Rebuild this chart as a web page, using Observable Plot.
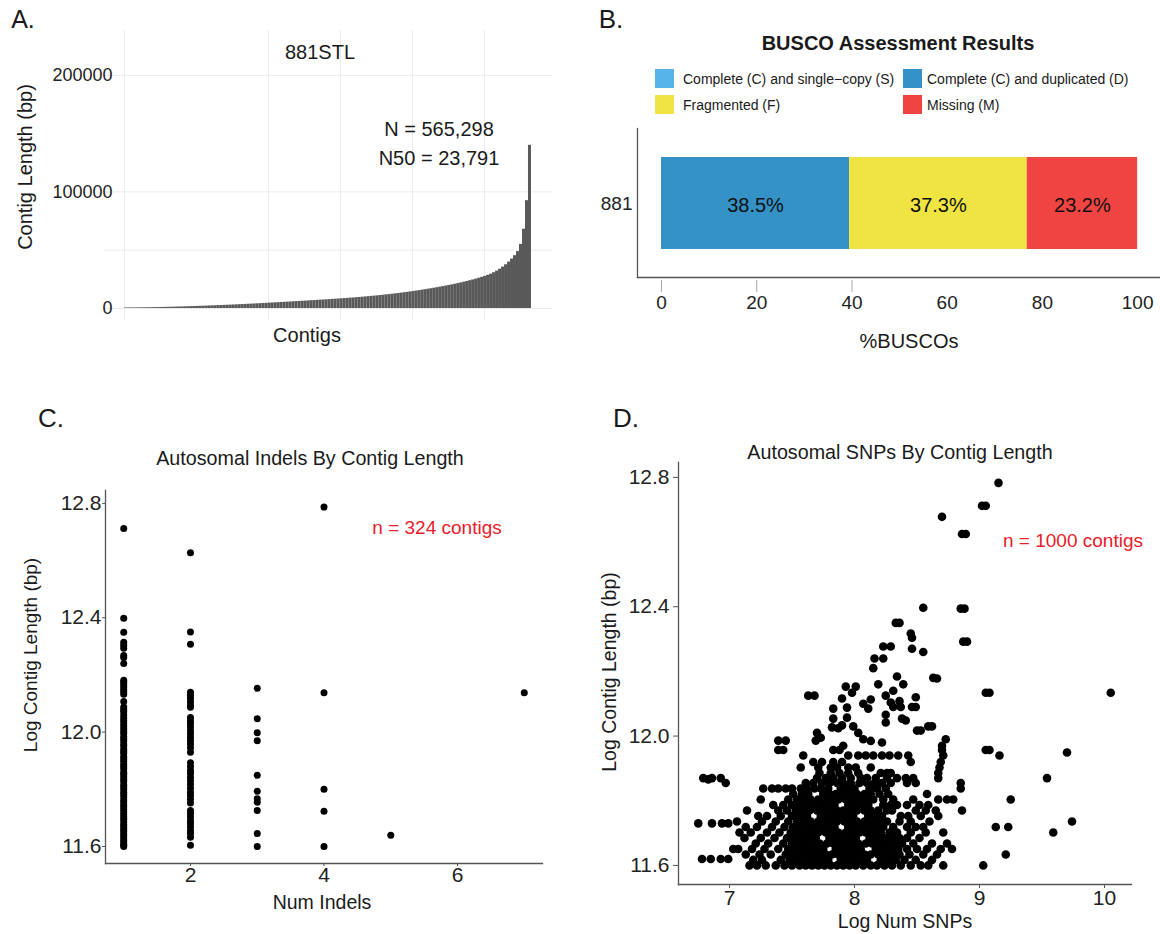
<!DOCTYPE html>
<html><head><meta charset="utf-8">
<script src="https://cdn.jsdelivr.net/npm/d3@7"></script>
<script src="https://cdn.jsdelivr.net/npm/@observablehq/plot@0.6"></script>
<style>
body{margin:0;background:#fff;font-family:"Liberation Sans",Arial,Helvetica,sans-serif;color:#1a1a1a}
#fig{position:relative;width:1160px;height:934px;overflow:hidden;background:#fff}
.t{position:absolute;white-space:nowrap;line-height:1;transform:translate(-50%,-50%)}
.p{position:absolute}
.sw{position:absolute;width:19px;height:19px}
</style></head><body><div id="fig"></div><script>
// ---------- Panel A data ----------
const contigLengths = [
 450,480,500,520,550,580,610,650,690,
 730,780,830,880,940,1000,1070,1140,
 1210,1290,1370,1450,1530,1610,1700,1790,1880,
 1970,2060,2160,2260,2360,2460,2570,2680,
 2790,2900,3020,3140,3260,3380,3500,3630,
 3760,3890,4020,4150,4290,4430,4570,4710,
 4850,5000,5150,5300,5450,5600,5750,5900,6050,
 6200,6350,6500,6660,6820,6980,7140,7300,
 7460,7620,7790,7960,8130,8300,8480,8660,
 8850,9050,9250,9460,9680,9900,10130,10370,10610,
 10860,11120,11390,11670,11950,12240,12540,12850,
 13170,13500,13840,14190,14550,14920,15300,15700,
 16110,16530,16960,17400,17850,18310,18780,19260,
 19760,20280,20820,21380,21960,22560,23180,
 23830,24500,25200,25940,26720,
 27550,28450,29420,30700,
 32100,33700,35500,37500,
 39800,42400,45300,48800,
 55000,68000,92500,140000];
const totalContigs = 565298;
const lengthTicks = [0, 100000, 200000];
const lengthGrid = [0, 50000, 100000, 200000];
const contigGrid = [0, 200000, 300000, 400000, 500000];

// ---------- Panel B data ----------
const buscoSample = "881";
const buscoCategories = ["Complete (C) and single\u2212copy (S)", "Complete (C) and duplicated (D)", "Fragmented (F)", "Missing (M)"];
const buscoColors = ["#56B4E9", "#3492C7", "#F0E442", "#F04442"];
const buscoValues = [0, 39.5, 37.3, 23.2];
const buscoLabels = ["", "38.5%", "37.3%", "23.2%"];
const percentTicks = [0, 20, 40, 60, 80, 100];
const percentTickMarks = [0, 20, 40];

// ---------- Panel C data ----------
const indelsAt1 = [12.712,12.398,12.349,12.314,12.304,12.293,12.268,12.261,12.240,12.181,12.174,12.166,12.158,12.149,12.141,12.132,12.107,12.088,12.079,12.071,12.060,12.049,12.041,12.032,12.022,12.013,12.004,11.996,11.985,11.977,11.969,11.958,11.951,11.940,11.932,11.925,11.914,11.906,11.898,11.887,11.879,11.871,11.860,11.853,11.844,11.834,11.827,11.816,11.809,11.800,11.790,11.782,11.773,11.763,11.756,11.746,11.739,11.729,11.721,11.712,11.703,11.695,11.686,11.677,11.669,11.660,11.652,11.643,11.635,11.626,11.618,11.610,11.604,11.600];
const indelsAt2 = [12.627,12.350,12.307,12.139,12.128,12.118,12.106,12.094,12.087,12.051,12.040,12.030,12.018,12.005,11.994,11.982,11.970,11.958,11.945,11.930,11.893,11.880,11.866,11.855,11.842,11.830,11.817,11.804,11.790,11.778,11.765,11.752,11.726,11.715,11.703,11.690,11.680,11.668,11.655,11.645,11.632,11.604];
const indelsAt3 = [12.153,12.047,11.998,11.970,11.849,11.793,11.767,11.755,11.726,11.645,11.600];
const indelsAt4 = [12.787,12.138,11.800,11.723,11.600];
const indelsAt5 = [11.639];
const indelsAt7 = [12.138];
const logLenTicks = [11.6, 12.0, 12.4, 12.8];
const indelTicks = [2, 4, 6];

// ---------- Panel D data ----------
const snpRowLevels = [11.600,11.617,11.634,11.651,11.668,11.685,11.702,11.719,11.736,11.753,11.770,11.787,11.804,11.821,11.838,11.855,11.870,11.886,11.903,11.920,11.940,11.957];
const snpRowLogNum = [
 [7.16,7.22,7.29,7.37,7.44,7.50,7.56,7.61,7.66,7.71,7.76,7.81,7.86,7.91,7.96,8.01,8.07,8.13,8.18,8.24,8.30,8.37,8.45,8.53,8.59,8.71,9.03],
 [7.19,7.26,7.41,7.48,7.53,7.58,7.64,7.69,7.74,7.79,7.89,7.94,7.99,8.04,8.10,8.21,8.27,8.33,8.40,8.49,8.62],
 [7.13,7.24,7.33,7.45,7.51,7.56,7.62,7.67,7.72,7.77,7.82,7.87,7.92,7.97,8.02,8.08,8.13,8.19,8.25,8.31,8.36,8.44,8.55,8.66,9.21],
 [7.03,7.07,7.18,7.28,7.39,7.47,7.53,7.59,7.64,7.70,7.75,7.85,7.90,7.95,8.00,8.05,8.17,8.23,8.29,8.35,8.42,8.50,8.58,8.69,8.78],
 [7.21,7.31,7.43,7.50,7.56,7.61,7.67,7.72,7.78,7.83,7.88,7.93,7.98,8.03,8.09,8.14,8.20,8.26,8.32,8.38,8.47,8.62,8.74],
 [7.12,7.25,7.36,7.46,7.52,7.58,7.63,7.69,7.80,7.85,7.90,7.96,8.01,8.12,8.18,8.24,8.30,8.36,8.42,8.52],
 [7.08,7.17,7.30,7.40,7.49,7.55,7.60,7.66,7.71,7.77,7.82,7.87,7.93,7.98,8.04,8.09,8.15,8.21,8.28,8.34,8.45,8.57,8.71,9.59],
 [7.13,7.22,7.34,7.44,7.51,7.57,7.63,7.68,7.73,7.79,7.84,7.95,8.00,8.06,8.11,8.17,8.23,8.31,8.42,8.49,8.55,9.13,9.23],
 [7.06,7.26,7.37,7.47,7.54,7.60,7.65,7.71,7.76,7.81,7.86,7.92,7.97,8.02,8.08,8.14,8.20,8.26,8.36,8.45,8.60,9.74],
 [7.23,7.30,7.41,7.50,7.56,7.62,7.73,7.78,7.84,7.89,7.94,7.99,8.11,8.16,8.22,8.37,8.43,8.53,8.67],
 [7.14,7.39,7.46,7.53,7.59,7.64,7.70,7.75,7.81,7.86,7.91,7.97,8.02,8.08,8.13,8.19,8.26,8.30,8.49,8.57,8.65,8.86],
 [7.35,7.43,7.50,7.56,7.62,7.67,7.73,7.78,7.84,7.95,8.00,8.06,8.11,8.23,8.29,8.34,8.42,8.52,8.59],
 [7.25,7.47,7.54,7.60,7.65,7.71,7.76,7.82,7.87,7.93,7.98,8.04,8.09,8.15,8.23,8.31,8.47,8.67,8.74,8.79,9.25],
 [7.51,7.58,7.63,7.75,7.80,7.85,7.91,7.96,8.02,8.08,8.13,8.20,8.27,8.58],
 [7.27,7.34,7.39,7.45,7.50,7.57,7.62,7.68,7.73,7.79,7.89,7.94,8.00,8.12,8.18,8.25,8.85],
 [6.97,7.61,7.67,7.74,7.80,7.86,7.91,7.97,8.04,8.10,8.16,8.22,8.29,8.42,8.49,8.85],
 [6.79,6.86,6.93,7.70,7.77,7.83,7.90,7.97,8.05,8.10,8.17,8.26,8.34,8.41,8.47,8.67,9.54],
 [7.72,7.81,7.88,7.95,8.03,8.21,8.26,8.29,8.67],
 [7.57,7.71,7.81,7.86,7.95,8.01,8.13,8.68],
 [7.67,7.74,7.83,7.90,8.45,8.69],
 [7.59,7.95,8.03,8.09,8.15,8.22,8.28,8.35,8.43,8.71,9.16],
 [7.39,7.43,7.83,7.88,8.70,9.05,9.08]];
const snpScattered = [
 [6.83,11.866],[6.75,11.73],[6.86,11.73],[6.94,11.73],[6.99,11.73],[6.78,11.62],[6.85,11.62],[6.93,11.62],[6.99,11.62],
 [9.70,11.949],[7.39,11.986],[7.45,11.986],[7.69,11.986],[7.73,11.995],[7.70,12.01],[8.22,11.98],[8.07,11.99],[8.13,11.985],
 [8.73,11.99],[7.91,11.97],[8.70,11.97],[8.03,12.01],[8.50,12.017],[8.53,12.017],[7.82,12.027],[7.87,12.024],[7.90,12.033],
 [7.99,12.03],[8.59,12.03],[8.62,12.03],[8.25,12.042],[8.41,12.048],[8.38,12.054],[7.83,12.054],[7.94,12.057],[8.25,12.066],
 [7.83,12.085],[7.94,12.088],[8.11,12.085],[8.31,12.09],[8.37,12.09],[8.46,12.09],[8.49,12.09],[8.07,12.10],[8.29,12.104],
 [8.36,12.108],[8.13,12.113],[7.90,12.116],[8.49,12.12],[7.63,12.125],[7.68,12.125],[8.25,12.125],[7.98,12.134],[9.05,12.134],
 [9.08,12.134],[10.05,12.134],[8.31,12.14],[7.93,12.153],[8.01,12.153],[8.19,12.16],[8.39,12.16],[8.63,12.18],[8.66,12.178],
 [8.34,12.184],[8.15,12.21],[8.16,12.24],[8.23,12.24],[8.55,12.26],[8.46,12.27],[8.23,12.277],[8.29,12.277],[8.87,12.292],
 [8.90,12.292],[8.46,12.304],[8.45,12.317],[8.33,12.35],[8.36,12.35],[8.55,12.397],[8.85,12.394],[8.88,12.394],[8.86,12.625],
 [8.89,12.625],[8.70,12.678],[9.02,12.712],[9.05,12.712],[9.152,12.783]];
const snpTicksX = [7, 8, 9, 10];

// ---------- helpers ----------
const fig = document.getElementById("fig");
const FONT = "Liberation Sans, Arial, Helvetica, sans-serif";
function txt(s, x, y, size, extra = {}) {
  const d = document.createElement("div");
  d.className = "t"; d.textContent = s;
  d.style.left = x + "px"; d.style.top = y + "px"; d.style.fontSize = size + "px";
  Object.assign(d.style, extra); fig.appendChild(d); return d;
}
function place(svg, x, y) {
  const d = document.createElement("div");
  d.className = "p"; d.style.left = x + "px"; d.style.top = y + "px";
  d.appendChild(svg); fig.appendChild(d);
}
const baseStyle = {fontFamily: FONT, fontSize: "20px", color: "#1a1a1a", background: "transparent", overflow: "visible"};
const ROT = "translate(-50%,-50%) rotate(-90deg)";

// ---------- Panel A ----------
const barsA = contigLengths.map((v, i) => ({
  x1: i * totalContigs / contigLengths.length,
  x2: (i + 1) * totalContigs / contigLengths.length,
  base: 0, len: v}));
const plotA = Plot.plot({
  width: 560, height: 340, marginLeft: 104, marginRight: 8, marginTop: 30, marginBottom: 20,
  style: baseStyle,
  x: {domain: [-27800, 594500], axis: null},
  y: {domain: [-10300, 238500]},
  marks: [
    Plot.gridY(lengthGrid, {stroke: "#ebebeb", strokeOpacity: 1}),
    Plot.gridX(contigGrid, {stroke: "#ebebeb", strokeOpacity: 1}),
    Plot.rect(barsA, {x1: "x1", x2: "x2", y1: "base", y2: "len", fill: "#595959"}),
    Plot.axisY(lengthTicks, {tickSize: 0, tickPadding: 0, dx: 8, fontSize: 18, tickFormat: d => String(d), label: null, fill: "#222"})
  ]
});
place(plotA, 0, 0);
txt("A.", 23, 19, 25);
txt("881STL", 320, 52, 20);
txt("N = 565,298", 439, 129, 20);
txt("N50 = 23,791", 439, 158, 20);
txt("Contig Length (bp)", 25, 167, 20, {transform: ROT});
txt("Contigs", 307, 335, 20);

// ---------- Panel B ----------
const buscoRows = buscoCategories.map((c, i) => ({sample: buscoSample, category: c, value: buscoValues[i], label: buscoLabels[i]}));
const plotB = Plot.plot({
  width: 580, height: 240, marginLeft: 57, marginRight: 0, marginTop: 8, marginBottom: 83,
  style: baseStyle,
  x: {domain: [-5.04, 104.8]},
  y: {domain: [buscoSample], padding: 0.237},
  color: {domain: buscoCategories, range: buscoColors},
  marks: [
    Plot.barX(buscoRows, Plot.stackX({x: "value", y: "sample", fill: "category"})),
    Plot.text(buscoRows, Plot.stackX({x: "value", y: "sample", text: "label", fontSize: 20, fill: "#111", dy: 2})),
    Plot.frame({anchor: "left", stroke: "#555", strokeWidth: 1.3}),
    Plot.frame({anchor: "bottom", stroke: "#555", strokeWidth: 1.3}),
    Plot.axisX(percentTicks, {tickSize: 0, tickPadding: 18, fontSize: 19, label: null, fill: "#222"}),
    Plot.axisX(percentTickMarks, {tickSize: 12, dy: 3, tickFormat: () => "", stroke: "#aaa", label: null}),
    Plot.axisY({tickSize: 0, tickPadding: 5, fontSize: 19, label: null, fill: "#222"})
  ]
});
place(plotB, 580, 120);
txt("B.", 611, 19, 26);
txt("BUSCO Assessment Results", 898, 43, 20, {fontWeight: "bold"});
const legendPos = [[655, 69, 683], [903, 69, 927], [655, 95, 683], [903, 95, 927]];
buscoCategories.forEach((c, j) => {
  const [sx, sy, tx] = legendPos[j];
  const s = document.createElement("div");
  s.className = "sw"; s.style.left = sx + "px"; s.style.top = sy + "px"; s.style.background = buscoColors[j];
  fig.appendChild(s);
  const t = txt(c, tx, sy + 9.5, 14);
  t.style.transform = "translate(0,-50%)";
});
txt("%BUSCOs", 909, 341, 20);

// ---------- Panel C ----------
const indelRows = [[1, indelsAt1], [2, indelsAt2], [3, indelsAt3], [4, indelsAt4], [5, indelsAt5], [7, indelsAt7]]
  .flatMap(([n, arr]) => arr.map(v => ({n, len: v})));
const plotC = Plot.plot({
  width: 580, height: 440, marginLeft: 105, marginRight: 38, marginTop: 10, marginBottom: 57,
  style: baseStyle,
  x: {domain: [0.727, 7.273]},
  y: {domain: [11.5405, 12.845]},
  marks: [
    Plot.frame({anchor: "left", stroke: "#555", strokeWidth: 1.3}),
    Plot.frame({anchor: "bottom", stroke: "#555", strokeWidth: 1.3}),
    Plot.dot(indelRows, {x: "n", y: "len", r: 3.5, fill: "#000"}),
    Plot.axisY(logLenTicks, {tickSize: 3, tickPadding: 1, fontSize: 21, tickFormat: d => d.toFixed(1), label: null, fill: "#222", stroke: "#555"}),
    Plot.axisX(indelTicks, {tickSize: 3, tickPadding: 1, fontSize: 21, label: null, fill: "#222", stroke: "#555"})
  ]
});
place(plotC, 0, 480);
txt("C.", 51, 418, 26);
txt("Autosomal Indels By Contig Length", 310, 459, 19.7);
txt("Log Contig Length (bp)", 30, 655, 19, {transform: ROT});
txt("Num Indels", 322, 903, 19.5);
txt("n = 324 contigs", 437, 527, 19, {color: "#e8202a"});

// ---------- Panel D ----------
const snpRows = snpRowLevels.flatMap((y, i) => snpRowLogNum[i].map(x => ({x, y})))
  .concat(snpScattered.map(([x, y]) => ({x, y})));
const plotD = Plot.plot({
  width: 580, height: 470, marginLeft: 98, marginRight: 29, marginTop: 7, marginBottom: 41,
  style: baseStyle,
  x: {domain: [6.592, 10.216]},
  y: {domain: [11.541, 12.846]},
  marks: [
    Plot.frame({anchor: "left", stroke: "#555", strokeWidth: 1.3}),
    Plot.frame({anchor: "bottom", stroke: "#555", strokeWidth: 1.3}),
    Plot.dot(snpRows, {x: "x", y: "y", r: 4.3, fill: "#000"}),
    Plot.axisY(logLenTicks, {tickSize: 5, tickPadding: 4, fontSize: 21, tickFormat: d => d.toFixed(1), label: null, fill: "#222", stroke: "#555"}),
    Plot.axisX(snpTicksX, {tickSize: 4, tickPadding: 2, fontSize: 21, tickFormat: d => String(d), label: null, fill: "#222", stroke: "#555"})
  ]
});
place(plotD, 580, 455);
txt("D.", 626, 418, 26);
txt("Autosomal SNPs By Contig Length", 900, 453, 19.7);
txt("Log Contig Length (bp)", 610, 672, 19.5, {transform: ROT});
txt("Log Num SNPs", 905, 922, 19.5);
txt("n = 1000 contigs", 1073, 540, 19, {color: "#e8202a"});
</script></body></html>
